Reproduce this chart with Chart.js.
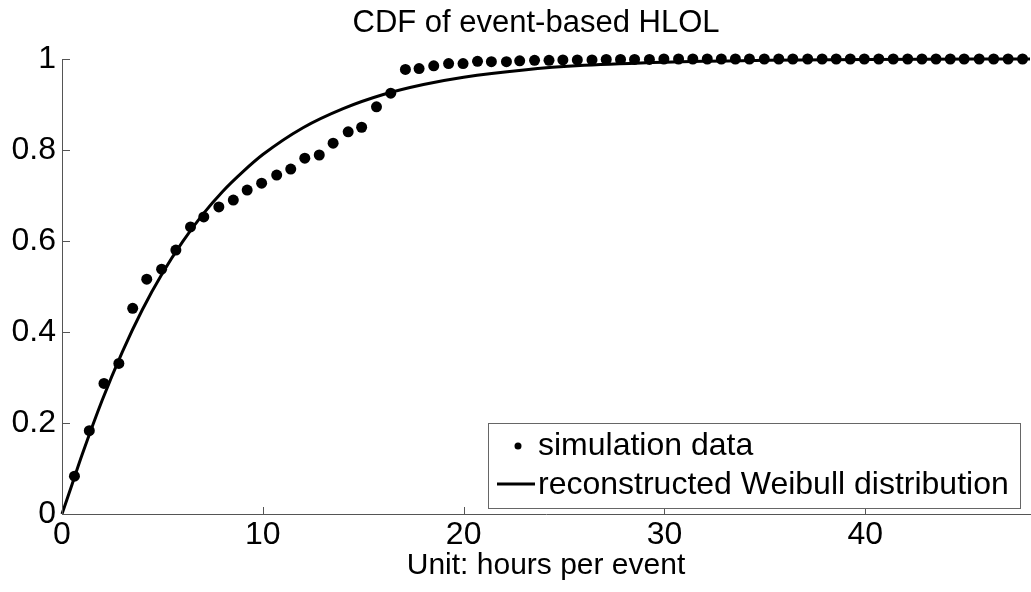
<!DOCTYPE html>
<html>
<head>
<meta charset="utf-8">
<title>CDF of event-based HLOL</title>
<script src="https://cdn.jsdelivr.net/npm/chart.js@4.4.1/dist/chart.umd.min.js"></script>
<style>
  html, body { margin: 0; padding: 0; background: #fff; }
  #wrap { width: 1031px; height: 592px; position: relative; }
</style>
</head>
<body>
<div id="wrap"><canvas id="hlol-cdf"></canvas></div>
<script>
// simulated event durations (hours) and their empirical CDF
const simHours = [0.62, 1.36, 2.09, 2.83, 3.52, 4.22, 4.96, 5.67, 6.40, 7.06,
  7.81, 8.53, 9.22, 9.94, 10.69, 11.39, 12.09, 12.81, 13.50, 14.25,
  14.92, 15.66, 16.37, 17.10, 17.78, 18.51, 19.25, 19.97, 20.69, 21.38,
  22.13, 22.79, 23.53, 24.25, 24.94, 25.66, 26.39, 27.10, 27.81, 28.51,
  29.25, 29.97, 30.70, 31.41, 32.13, 32.83, 33.53, 34.23, 34.97, 35.69,
  36.39, 37.13, 37.85, 38.55, 39.25, 39.95, 40.67, 41.39, 42.11, 42.82,
  43.52, 44.23, 44.92, 45.67, 46.39, 47.11, 47.83];
const simCdf = [0.083, 0.183, 0.287, 0.331, 0.452, 0.516, 0.538, 0.580, 0.631, 0.653,
  0.675, 0.690, 0.712, 0.727, 0.745, 0.758, 0.782, 0.789, 0.815, 0.840,
  0.850, 0.895, 0.925, 0.977, 0.979, 0.985, 0.990, 0.990, 0.995, 0.994,
  0.994, 0.996, 0.997, 0.997, 0.998, 0.998, 0.998, 0.999, 0.999, 0.999,
  0.999, 1.0, 1.0, 1.0, 1.0, 1.0, 1.0, 1.0, 1.0, 1.0,
  1.0, 1.0, 1.0, 1.0, 1.0, 1.0, 1.0, 1.0, 1.0, 1.0,
  1.0, 1.0, 1.0, 1.0, 1.0, 1.0, 1.0];

// fitted Weibull curve
const fitHours = [0, 0.5, 1, 2, 3, 4, 5, 6, 7, 8, 9, 10, 12, 14, 16, 18, 20, 23, 26, 30, 35, 40, 48.2];
const fitCdf = [0, 0.065, 0.130, 0.250, 0.356, 0.449, 0.529, 0.598, 0.658, 0.709, 0.752,
  0.790, 0.849, 0.891, 0.922, 0.944, 0.960, 0.976, 0.986, 0.993, 0.997, 0.999, 1.0];

const xTicks = [0, 10, 20, 30, 40];
const yTicks = [0, 0.2, 0.4, 0.6, 0.8, 1];
const legendLabels = ['simulation data', 'reconstructed Weibull distribution'];

const FONT = "'Liberation Sans', Arial, Helvetica, sans-serif";
const AXIS = '#555';

const toPoints = (xs, ys) => xs.map((x, i) => ({ x: x, y: ys[i] }));

// matlab style decorations: inward ticks, centred title, boxed legend
const matlabFrame = {
  id: 'matlabFrame',
  afterDraw(chart) {
    const { ctx, chartArea, scales } = chart;
    const xs = scales.x, ys = scales.y;
    ctx.save();
    ctx.strokeStyle = AXIS;
    ctx.lineWidth = 1;
    ctx.beginPath();
    xTicks.forEach(v => {
      const px = Math.round(xs.getPixelForValue(v)) + 0.5;
      ctx.moveTo(px, chartArea.bottom);
      ctx.lineTo(px, chartArea.bottom - 7);
    });
    yTicks.forEach(v => {
      const py = Math.round(ys.getPixelForValue(v)) + 0.5;
      ctx.moveTo(chartArea.left, py);
      ctx.lineTo(chartArea.left + 8, py);
    });
    ctx.stroke();

    // title over the axes
    ctx.fillStyle = '#000';
    ctx.font = '31px ' + FONT;
    ctx.textAlign = 'center';
    ctx.textBaseline = 'middle';
    ctx.fillText('CDF of event-based HLOL', 536, 23);

    // legend box
    const bx = 488, by = 423, bw = 532, bh = 85;
    ctx.fillStyle = '#fff';
    ctx.fillRect(bx, by, bw, bh);
    ctx.strokeStyle = '#666';
    ctx.strokeRect(bx + 0.5, by + 0.5, bw, bh);

    ctx.fillStyle = '#000';
    ctx.beginPath();
    ctx.arc(518, 446, 3.5, 0, Math.PI * 2);
    ctx.fill();
    ctx.strokeStyle = '#000';
    ctx.lineWidth = 3;
    ctx.beginPath();
    ctx.moveTo(497, 484);
    ctx.lineTo(535, 484);
    ctx.stroke();

    ctx.font = '32px ' + FONT;
    ctx.textAlign = 'left';
    ctx.fillText(legendLabels[0], 538, 446);
    ctx.fillText(legendLabels[1], 538, 485);
    ctx.restore();
  }
};

new Chart(document.getElementById('hlol-cdf'), {
  type: 'scatter',
  data: {
    datasets: [
      {
        label: legendLabels[0],
        data: toPoints(simHours, simCdf),
        pointRadius: 5.5,
        pointBackgroundColor: '#000',
        pointBorderWidth: 0,
        showLine: false,
        clip: false
      },
      {
        label: legendLabels[1],
        data: toPoints(fitHours, fitCdf),
        showLine: true,
        borderColor: '#000',
        borderWidth: 3,
        pointRadius: 0,
        cubicInterpolationMode: 'monotone',
        clip: false
      }
    ]
  },
  options: {
    responsive: true,
    maintainAspectRatio: false,
    animation: false,
    // the axis runs right up to the canvas edge, dots may overhang
    layout: { autoPadding: false, padding: { top: 59, right: 1, bottom: 0, left: 0 } },
    plugins: {
      legend: { display: false },
      tooltip: { enabled: false },
      title: { display: false }
    },
    scales: {
      x: {
        type: 'linear',
        min: 0,
        max: 48.2,
        afterBuildTicks: s => { s.ticks = xTicks.map(v => ({ value: v })); },
        afterFit: s => { s.height = 78; },
        grid: { drawOnChartArea: false, drawTicks: false },
        border: { display: true, color: AXIS, width: 1 },
        ticks: {
          color: '#000',
          padding: 5,
          font: { family: FONT, size: 32, lineHeight: 1 },
          maxRotation: 0
        },
        title: {
          display: true,
          text: 'Unit: hours per event',
          color: '#000',
          font: { family: FONT, size: 30, lineHeight: 1 },
          padding: { top: 0, bottom: 11 }
        }
      },
      y: {
        type: 'linear',
        min: 0,
        max: 1,
        afterBuildTicks: s => { s.ticks = yTicks.map(v => ({ value: v })); },
        afterFit: s => { s.width = 62; },
        grid: { drawOnChartArea: false, drawTicks: false },
        border: { display: true, color: AXIS, width: 1 },
        ticks: {
          color: '#000',
          padding: 6,
          font: { family: FONT, size: 32, lineHeight: 1 },
          callback: v => String(v)
        }
      }
    }
  },
  plugins: [matlabFrame]
});
</script>
</body>
</html>
